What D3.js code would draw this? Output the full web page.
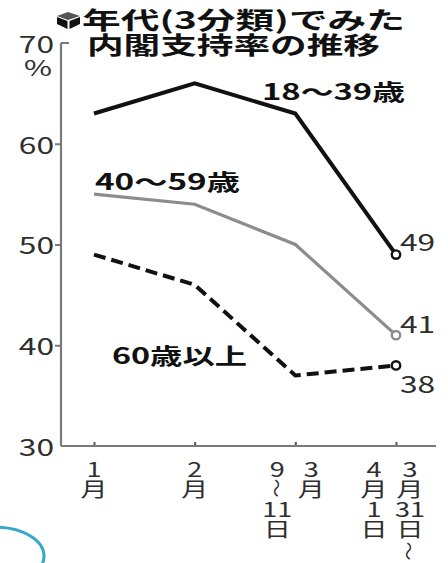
<!DOCTYPE html>
<html><head><meta charset="utf-8">
<script src="https://cdn.jsdelivr.net/npm/d3@7"></script>
<style>body{margin:0;background:#fff;} svg{display:block;}</style>
</head><body>
<script>
// ---- data ----
const categories = ["1月", "2月", "3月9〜11日", "3月31日〜4月1日"];
const categoryColumns = [
  [["1", "月"]],
  [["2", "月"]],
  [["9", "〜", "11", "日"], ["3", "月"]],
  [["4", "月", "1", "日"], ["3", "月", "31", "日", "〜"]]
];
const seriesNames = ["18〜39歳", "40〜59歳", "60歳以上"];
const young = [63, 66, 63, 49];
const middle = [55, 54, 50, 41];
const senior = [49, 46, 37, 38];
const yTicks = [30, 40, 50, 60, 70];
const titleLines = ["年代(3分類)でみた", "内閣支持率の推移"];
const unitLabel = "%";

// ---- layout ----
const W = 448, H = 563;
const FONT = "'Noto Sans CJK JP','Noto Sans',sans-serif";
const SX = 1.38;
const svg = d3.select("body").append("svg").attr("width", W).attr("height", H);

const x = d3.scalePoint().domain(categories).range([94, 396]);
const y = d3.scaleLinear().domain([30, 70]).range([446, 43]);
const axisX0 = 61, axisX1 = 436;
const axisColor = "#7a7a7a", textColor = "#2e2e2e";

function txt(s, tx, ty, o = {}) {
  const sx = o.sx ?? SX;
  return svg.append("text")
    .attr("transform", `translate(${tx},${ty}) ${o.rotate ? "rotate(" + o.rotate + ")" : ""} scale(${sx},1)`)
    .attr("font-family", FONT)
    .attr("font-size", o.size ?? 23)
    .attr("font-weight", o.weight ?? "normal")
    .attr("fill", o.fill ?? textColor)
    .attr("text-anchor", o.anchor ?? "start")
    .attr("dominant-baseline", o.baseline ?? "central")
    .text(s);
}

// blue arc artifact
svg.append("ellipse").attr("cx", -5).attr("cy", 556).attr("rx", 49).attr("ry", 29)
  .attr("fill", "none").attr("stroke", "#36a8ca").attr("stroke-width", 3);

// ---- title ----
const icon = svg.append("g").attr("transform", "translate(57,12)");
icon.append("polygon").attr("points", "11,0 23,4 11,8 0,4").attr("fill", "#555");
icon.append("polygon").attr("points", "0,5 10.5,9 10.5,17 0,12").attr("fill", "#111");
icon.append("polygon").attr("points", "23,5 12.5,9 12.5,17 23,12").attr("fill", "#111");

svg.append("text").attr("x", 82).attr("y", 29)
  .attr("font-family", FONT).attr("font-size", 24).attr("font-weight", "bold").attr("fill", "#111")
  .attr("textLength", 323).attr("lengthAdjust", "spacingAndGlyphs").text(titleLines[0]);
svg.append("text").attr("x", 87).attr("y", 54)
  .attr("font-family", FONT).attr("font-size", 24).attr("font-weight", "bold").attr("fill", "#111")
  .attr("textLength", 293).attr("lengthAdjust", "spacingAndGlyphs").text(titleLines[1]);

// ---- axes ----
const gy = svg.append("g").attr("transform", `translate(${axisX0},0)`)
  .call(d3.axisLeft(y).tickValues(yTicks.filter(v => v > 30 && v < 70)).tickSize(6).tickFormat(""));
gy.select(".domain").remove();
gy.selectAll(".tick line").attr("stroke", axisColor).attr("stroke-width", 2);
svg.append("line").attr("x1", axisX0).attr("x2", axisX0).attr("y1", y(70)).attr("y2", y(30))
  .attr("stroke", axisColor).attr("stroke-width", 2.2);
svg.append("line").attr("x1", axisX0).attr("x2", axisX0 + 8).attr("y1", y(70)).attr("y2", y(70))
  .attr("stroke", axisColor).attr("stroke-width", 2);
yTicks.forEach(v => txt(String(v), 54, y(v), { anchor: "end", size: 23 }));
txt(unitLabel, 38, 66, { anchor: "middle", size: 22 });

const gx = svg.append("g").attr("transform", `translate(0,${y(30)})`)
  .call(d3.axisBottom(x).tickSizeInner(-4).tickSizeOuter(0).tickFormat(""));
gx.select(".domain").remove();
gx.selectAll(".tick line").attr("stroke", "#555").attr("stroke-width", 2);
svg.append("line").attr("x1", axisX0).attr("x2", axisX1).attr("y1", y(30)).attr("y2", y(30))
  .attr("stroke", axisColor).attr("stroke-width", 2.2);

// x labels (vertical stacked)
const rowY0 = 468, rowStep = 20;
categories.forEach((c, i) => {
  const cols = categoryColumns[i];
  const offsets = cols.length === 1 ? [0] : (i === 2 ? [-18, 16] : [-22, 14]);
  cols.forEach((col, j) => {
    const cx = x(c) + offsets[j];
    col.forEach((s, k) => {
      const cy = rowY0 + k * rowStep + (k === 4 ? 3 : 0);
      if (s === "〜") {
        txt(s, cx, cy, { anchor: "middle", size: 17, rotate: 90, sx: 1.1 });
      } else {
        txt(s, cx, cy, { anchor: "middle", size: 20, sx: 1.35 });
      }
    });
  });
});

// ---- lines ----
const line = d3.line().x((d, i) => x(categories[i])).y(d => y(d));
const series = [
  { name: seriesNames[1], values: middle, color: "#8c8c8c", width: 3.2, dash: null },
  { name: seriesNames[2], values: senior, color: "#111", width: 4, dash: "12,6" },
  { name: seriesNames[0], values: young, color: "#111", width: 4, dash: null }
];
series.forEach(s => {
  svg.append("path").datum(s.values).attr("d", line)
    .attr("fill", "none").attr("stroke", s.color).attr("stroke-width", s.width)
    .attr("stroke-dasharray", s.dash);
  const last = s.values.length - 1;
  svg.append("circle").attr("cx", x(categories[last])).attr("cy", y(s.values[last])).attr("r", 4.2)
    .attr("fill", "#fff").attr("stroke", s.color).attr("stroke-width", 2.4);
});

// end value labels
const endOffsets = { [seriesNames[0]]: -14, [seriesNames[1]]: -12, [seriesNames[2]]: 18 };
series.forEach(s => {
  const last = s.values[s.values.length - 1];
  txt(String(last), 400, y(last) + endOffsets[s.name], { size: 23 });
});

// series labels
const labelPos = [
  { name: seriesNames[0], x: 262, y: 90, len: 143 },
  { name: seriesNames[1], x: 95, y: 180, len: 145 },
  { name: seriesNames[2], x: 112, y: 354, len: 135 }
];
labelPos.forEach(p => {
  svg.append("text").attr("x", p.x).attr("y", p.y).attr("dominant-baseline", "central")
    .attr("font-family", FONT).attr("font-size", 22).attr("font-weight", "bold").attr("fill", "#111")
    .attr("textLength", p.len).attr("lengthAdjust", "spacingAndGlyphs").text(p.name);
});
</script>
</body></html>
